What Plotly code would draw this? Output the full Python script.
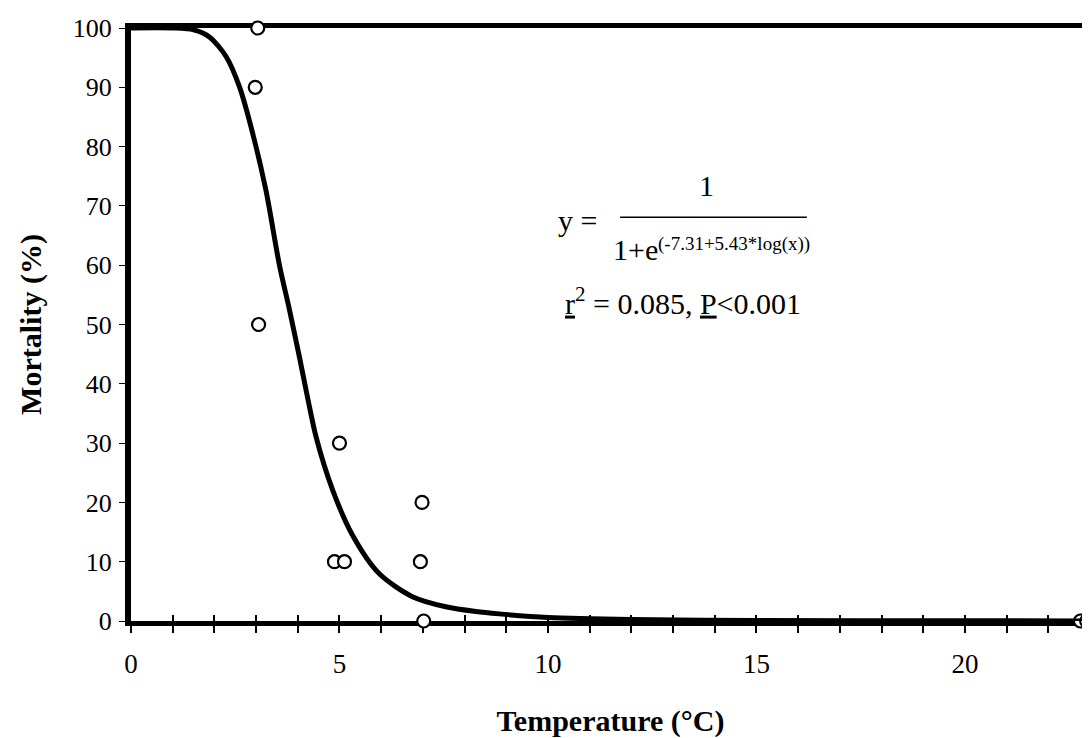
import plotly.graph_objects as go

temperature = [3.04, 2.98, 3.06, 5.00, 4.88, 5.12, 6.98, 6.94, 7.02, 22.77, 22.92]
mortality = [100, 90, 50, 30, 10, 10, 20, 10, 0, 0, 0]

# Fitted curve, points
curve_x = [0, 1.0, 1.5, 1.88, 2.28, 2.6, 2.92, 3.24, 3.56, 3.80, 4.04, 4.24, 4.44,
           4.83, 5.31, 5.95, 6.75, 7.55, 8.27, 8.83, 10.0, 12.0, 15.0, 20.0, 23.0]
curve_y = [100, 100, 99.7, 98.5, 95.2, 90.1, 82.2, 72.5, 60.0, 52.5, 44.5, 37.5, 31.0,
           22.2, 14.5, 8.0, 4.1, 2.4, 1.6, 1.2, 0.6, 0.25, 0.1, 0.03, 0.01]

x_ticks = [0, 5, 10, 15, 20]
y_ticks = [0, 10, 20, 30, 40, 50, 60, 70, 80, 90, 100]
x_range = [0, 23]

FONT = "Liberation Serif"

fig = go.Figure()
fig.add_trace(go.Scatter(
    x=curve_x, y=curve_y, mode="lines", xaxis="x2", yaxis="y",
    line=dict(color="black", width=5, shape="spline", smoothing=0.8),
    cliponaxis=False, hoverinfo="skip", showlegend=False,
))
fig.add_trace(go.Scatter(
    x=temperature, y=mortality, mode="markers",
    marker=dict(symbol="circle", size=13, color="white",
                line=dict(color="black", width=2.2)),
    cliponaxis=False, showlegend=False,
))

# Equation annotation
ann_font = dict(family=FONT, size=30, color="black")
sup_font = dict(family=FONT, size=19, color="black")
fig.add_annotation(x=10.72, y=67.6, xref="x", yref="y", text="y =",
                   showarrow=False, font=ann_font, xanchor="center", yanchor="middle")
fig.add_annotation(x=13.81, y=73.4, xref="x", yref="y", text="1",
                   showarrow=False, font=ann_font, xanchor="center", yanchor="middle")
fig.add_shape(type="line", xref="x", yref="y", x0=11.73, x1=16.21, y0=68.1, y1=68.1,
              line=dict(color="black", width=1.5))
fig.add_annotation(x=11.52, y=62.6, xref="x", yref="y", text="1+e",
                   showarrow=False, font=ann_font, xanchor="left", yanchor="middle")
fig.add_annotation(x=12.60, y=63.6, xref="x", yref="y", text="(-7.31+5.43*log(x))",
                   showarrow=False, font=sup_font, xanchor="left", yanchor="middle")
fig.add_annotation(x=13.25, y=54.0, xref="x", yref="y",
                   text="<u>r</u><sup>2</sup> = 0.085, <u>P</u><0.001",
                   showarrow=False, font=ann_font, xanchor="center", yanchor="middle")

fig.update_layout(
    width=1082, height=730,
    margin=dict(l=123, r=0, t=20, b=117),
    paper_bgcolor="white", plot_bgcolor="white",
    font=dict(family=FONT, color="black"),
    showlegend=False,
    xaxis=dict(
        range=x_range, tickmode="array", tickvals=x_ticks,
        ticktext=[str(v) for v in x_ticks],
        showgrid=False, zeroline=False, layer="below traces",
        showline=True, linecolor="black", linewidth=5, mirror=True,
        ticks="outside", ticklen=7, tickwidth=1.5, tickcolor="black",
        minor=dict(dtick=1, tick0=0, ticks="outside", ticklen=7, tickwidth=1.5,
                   tickcolor="black", showgrid=False),
        tickfont=dict(family=FONT, size=27, color="black"),
        ticklabelstandoff=8,
        title=dict(text="<b>Temperature (°C)</b>",
                   font=dict(family=FONT, size=30, color="black"), standoff=34),
    ),
    xaxis2=dict(
        range=x_range, overlaying="x", anchor="y", side="bottom",
        showgrid=False, zeroline=False, showline=False, showticklabels=False,
        layer="below traces",
        tickmode="linear", tick0=0, dtick=1,
        ticks="inside", ticklen=6, tickwidth=1.5, tickcolor="black",
    ),
    yaxis=dict(
        range=[0, 100], tickmode="array", tickvals=y_ticks,
        ticktext=[str(v) for v in y_ticks],
        showgrid=False, zeroline=False, layer="below traces",
        showline=True, linecolor="black", linewidth=6,
        ticks="outside", ticklen=6, tickwidth=1, tickcolor="black",
        tickfont=dict(family=FONT, size=26, color="black"),
        ticklabelstandoff=2,
        title=dict(text="<b>Mortality (%)</b>",
                   font=dict(family=FONT, size=30, color="black"), standoff=24),
    ),
)

fig.write_html("out.html")
